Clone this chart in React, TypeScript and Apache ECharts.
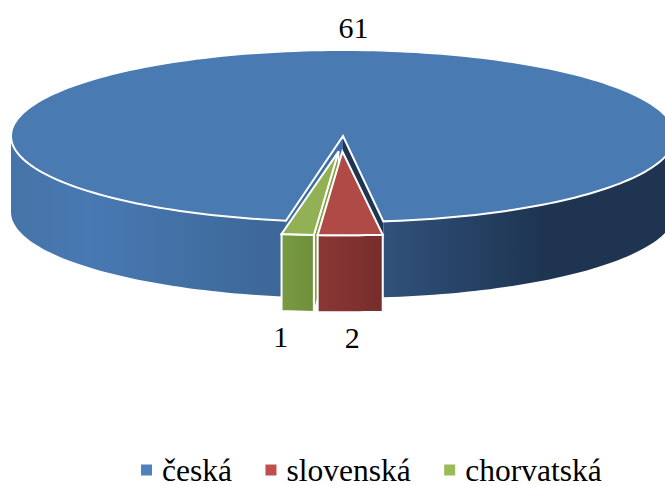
import React, { useEffect, useRef } from "react";
import * as echarts from "echarts";

const categories = ["česká", "slovenská", "chorvatská"];
const values = [61, 2, 1];

const legendColors = ["#4f81bd", "#c0504d", "#9bbb59"];
const topColors = ["#4a7ab2", "#b04a47", "#92b155"];
const startFaceColors = ["#3f6ea6", "#7f3230", "#7fa044"];
const endFaceColors = ["#1e3653", "#7f3230", "#7fa044"];
const wallStops = [
  [[0, "#4674a8"], [0.117, "#4879b2"], [0.405, "#3c6797"], [0.56, "#31527c"], [0.735, "#223c5c"], [0.81, "#1e3450"], [1, "#1e3450"]],
  [[0, "#8a3735"], [1, "#772d2b"]],
  [[0, "#789a41"], [1, "#6f903b"]],
];
const explode = [0, 0.18, 0.18];
const sliceShift = [[0, 0], [-2, 0], [3, 0]];
const sliceYScale = [1, 0.975, 0.975];
const sliceDepth = [76, 77, 77];
const labelNudge = [[2, -1], [2, 0], [-17, 0]];
const seriesZ = [2, 4, 3];

const CX = 343;
const CY = 136;
const A = 332;
const B = 86;
const START = 9.9;
const rad = (d: number) => (d * Math.PI) / 180;
const total = values.reduce((s, v) => s + v, 0);

function sliceRange(i: number) {
  let s = START;
  for (let k = 0; k < i; k++) s += (values[k] / total) * 360;
  return [s, s + (values[i] / total) * 360];
}

function renderSlice(i: number) {
  const [s, e] = sliceRange(i);
  const mid = (s + e) / 2;
  const DEPTH = sliceDepth[i];
  const ox = CX - A * explode[i] * Math.sin(rad(mid)) + sliceShift[i][0];
  const oy = CY + B * explode[i] * Math.cos(rad(mid)) + sliceShift[i][1];
  const pt = (d: number, dz = 0) => [
    ox - A * Math.sin(rad(d)),
    oy + B * sliceYScale[i] * Math.cos(rad(d)) + dz,
  ];
  const arc = (a: number, b: number, dz = 0) => {
    const n = Math.max(2, Math.ceil(Math.abs(b - a) / 1.5));
    const out: number[][] = [];
    for (let k = 0; k <= n; k++) out.push(pt(a + ((b - a) * k) / n, dz));
    return out;
  };
  const explodedStroke = { stroke: "#ffffff", lineWidth: 2 };
  const children: any[] = [];
  const gx0 = i === 0 ? CX - A : Math.min(pt(s)[0], pt(e)[0]);
  const gx1 = i === 0 ? CX + A : Math.max(pt(s)[0], pt(e)[0]);
  const fill = new echarts.graphic.LinearGradient(
    gx0, 0, gx1, 0,
    wallStops[i].map((p: any) => ({ offset: p[0], color: p[1] })),
    true
  );
  const apex = [ox, oy];
  const apexLow = [ox, oy + DEPTH];
  const face = (d: number, color: string) => ({
    type: "polygon",
    shape: { points: [apex, pt(d), pt(d, DEPTH), apexLow] },
    style: { fill: color, stroke: "#ffffff", lineWidth: i === 0 ? 0 : 1.5 },
  });
  if (Math.sin(rad(s)) > 0) children.push(face(s, startFaceColors[i]));
  if (Math.sin(rad(e)) < 0) children.push(face(e, endFaceColors[i]));
  [[-90, 90], [270, 450]].forEach(([lo, hi]) => {
    const a = Math.max(s, lo);
    const b = Math.min(e, hi);
    if (b <= a) return;
    children.push({
      type: "polygon",
      shape: { points: [...arc(a, b), ...arc(b, a, DEPTH)] },
      style: i === 0 ? { fill } : { fill, ...explodedStroke },
    });
  });
  children.push({
    type: "polygon",
    shape: { points: [apex, ...arc(s, e)] },
    style: { fill: topColors[i], ...explodedStroke },
  });
  const rim = pt(mid);
  const front = Math.cos(rad(mid)) > 0;
  children.push({
    type: "text",
    z2: 50,
    style: {
      text: String(values[i]),
      x: rim[0] + labelNudge[i][0],
      y: (front ? rim[1] + DEPTH + 25 : rim[1] - 22) + labelNudge[i][1],
      fill: "#000000",
      font: '30px "Liberation Serif"',
      textAlign: "center",
      textVerticalAlign: "middle",
    },
  });
  return { type: "group", children };
}

export default function App() {
  const ref = useRef<HTMLDivElement>(null);
  useEffect(() => {
    const chart = echarts.init(ref.current!, undefined, { renderer: "svg" });
    chart.setOption({
      animation: false,
      backgroundColor: "#ffffff",
      legend: {
        data: categories,
        left: 141,
        top: 454,
        itemWidth: 11,
        itemHeight: 11,
        itemGap: 33.5,
        icon: "rect",
        padding: 0,
        textStyle: {
          color: "#000000",
          fontFamily: "Liberation Serif",
          fontSize: 31.5,
          padding: [0, 0, 0, 5],
        },
      },
      series: categories.map((name, i) => ({
        type: "custom",
        name,
        coordinateSystem: "none",
        z: seriesZ[i],
        silent: true,
        itemStyle: { color: legendColors[i] },
        data: [values[i]],
        renderItem: () => renderSlice(i),
      })),
    });
    return () => chart.dispose();
  }, []);
  return (
    <div
      ref={ref}
      style={{ position: "fixed", left: 0, top: 0, width: 665, height: 486, overflow: "hidden" }}
    />
  );
}
